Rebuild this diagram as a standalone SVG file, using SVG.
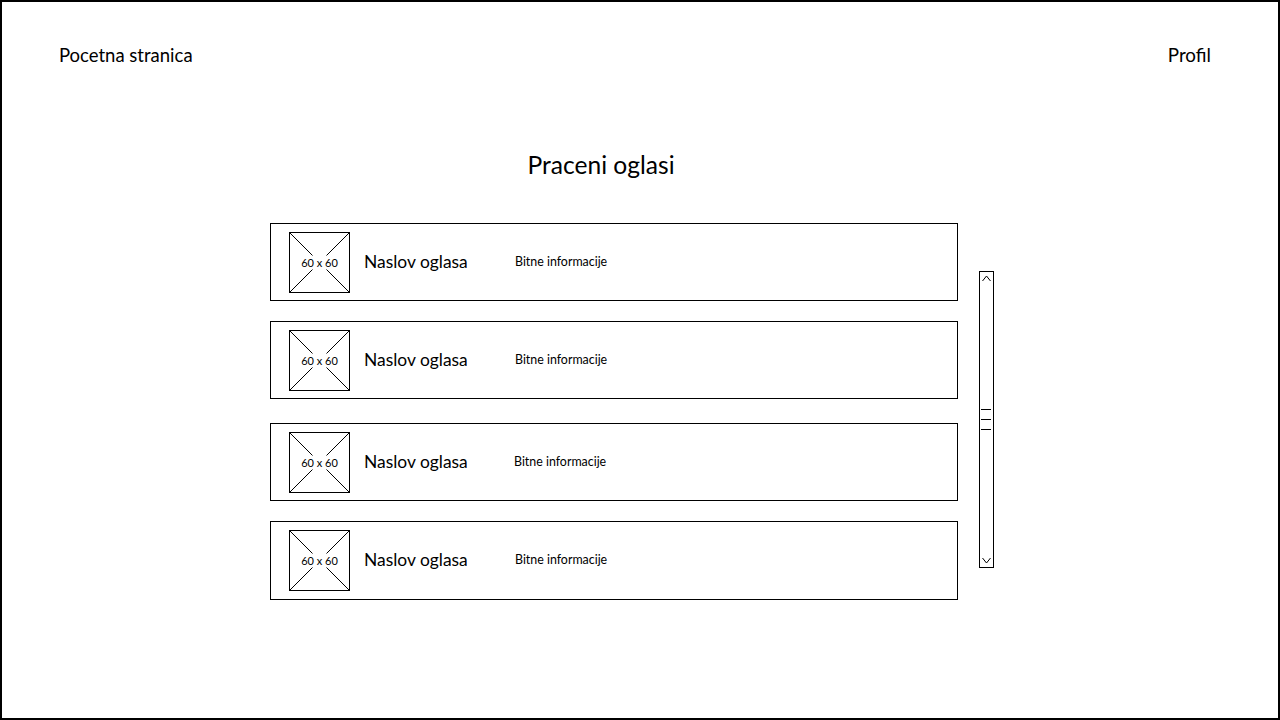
<svg xmlns="http://www.w3.org/2000/svg" width="1280" height="720" viewBox="0 0 1280 720">
<style>
.t{font-family:Lato,"Noto Sans","Liberation Sans",sans-serif;fill:#000}
.card{fill:#fff;stroke:#000;stroke-width:1}
.img{fill:#fff;stroke:#000;stroke-width:1}
.ln{stroke:#000;stroke-width:1;fill:none}
.h{font-size:17.4px}
.i{font-size:12.4px}
</style>
<defs>
<g id="thumb">
<rect class="img" x="0" y="0" width="60" height="60"/>
<line class="ln" x1="0" y1="0" x2="60" y2="60"/>
<line class="ln" x1="60" y1="0" x2="0" y2="60"/>
<rect x="10" y="23" width="40" height="14" fill="#fff"/>
<text class="t" x="30" y="34" font-size="11" text-anchor="middle">60 x 60</text>
</g>
</defs>
<rect x="1" y="1" width="1278" height="718" fill="#fff" stroke="#000" stroke-width="2"/>
<g id="nav-home"><text class="t" x="59" y="62" font-size="18.5">Pocetna stranica</text></g>
<g id="nav-profile"><text class="t" x="1211" y="62" font-size="18.8" text-anchor="end">Profil</text></g>
<g id="title"><text class="t" x="601" y="174" font-size="24.6" text-anchor="middle">Praceni oglasi</text></g>
<g id="card1">
<rect class="card" x="270.5" y="223.5" width="687" height="77"/>
<use href="#thumb" x="289.5" y="232.5"/>
<text class="t h" x="364" y="268">Naslov oglasa</text>
<text class="t i" x="515" y="266">Bitne informacije</text>
</g>
<g id="card2">
<rect class="card" x="270.5" y="321.5" width="687" height="77"/>
<use href="#thumb" x="289.5" y="330.5"/>
<text class="t h" x="364" y="366">Naslov oglasa</text>
<text class="t i" x="515" y="364">Bitne informacije</text>
</g>
<g id="card3">
<rect class="card" x="270.5" y="423.5" width="687" height="77"/>
<use href="#thumb" x="289.5" y="432.5"/>
<text class="t h" x="364" y="468">Naslov oglasa</text>
<text class="t i" x="514" y="466">Bitne informacije</text>
</g>
<g id="card4">
<rect class="card" x="270.5" y="521.5" width="687" height="78"/>
<use href="#thumb" x="289.5" y="530.5"/>
<text class="t h" x="364" y="566">Naslov oglasa</text>
<text class="t i" x="515" y="564">Bitne informacije</text>
</g>
<g id="scrollbar">
<rect class="card" x="979.5" y="271.5" width="14" height="296"/>
<polyline class="ln" points="982.5,281 986.5,276 990.5,281"/>
<polyline class="ln" points="982.5,558 986.5,563 990.5,558"/>
<line class="ln" x1="981" y1="409.5" x2="991" y2="409.5"/>
<line class="ln" x1="981" y1="419.5" x2="991" y2="419.5"/>
<line class="ln" x1="981" y1="429.5" x2="991" y2="429.5"/>
</g>
<g id="connectors"/>
</svg>
